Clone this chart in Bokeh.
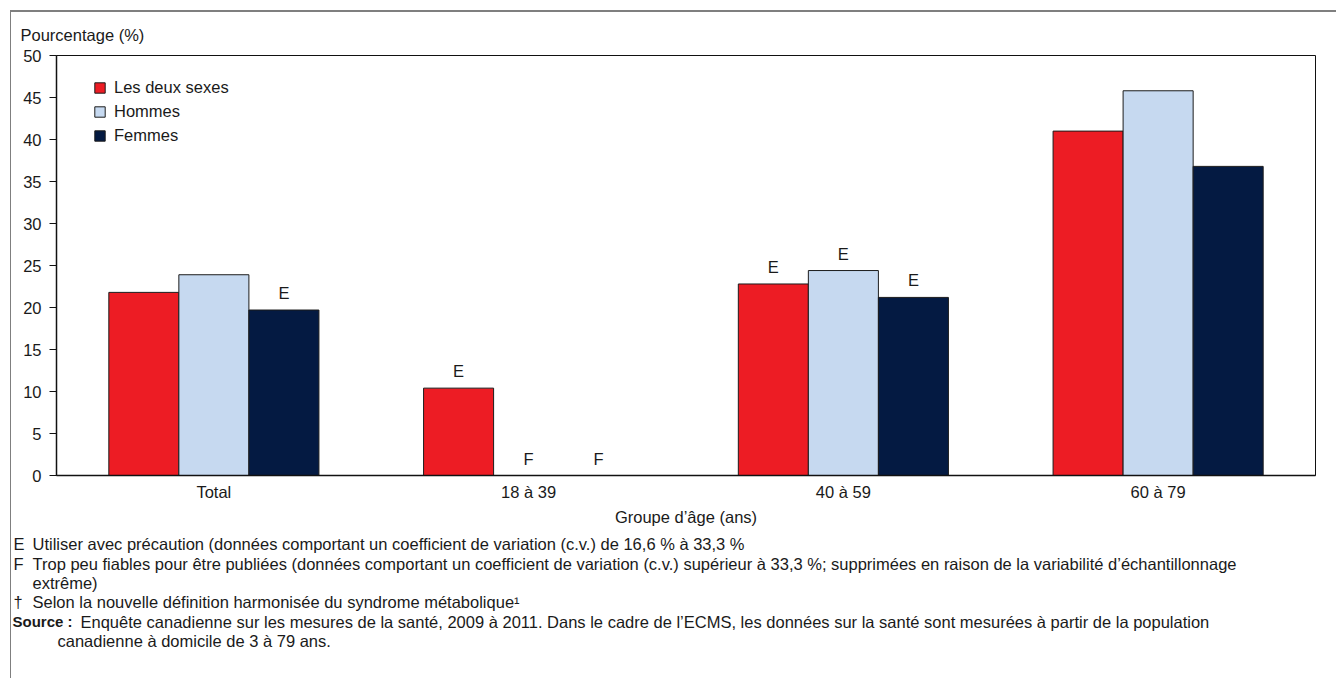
from bokeh.plotting import figure
from bokeh.layouts import column
from bokeh.models import (FactorRange, Range1d, Legend, LegendItem,
                          FixedTicker, ColumnDataSource, Column)
from bokeh.transform import dodge
from bokeh.core.properties import value
from bokeh.embed import file_html
from bokeh.resources import INLINE

# ---------------- data ----------------
categories = ["Total", "18 à 39", "40 à 59", "60 à 79"]
series_names = ["Les deux sexes", "Hommes", "Femmes"]
both = [21.8, 10.4, 22.8, 41.0]
men = [23.9, None, 24.4, 45.8]
women = [19.7, None, 21.2, 36.8]
flags_both = ["", "E", "E", ""]
flags_men = ["", "F", "E", ""]
flags_women = ["E", "F", "E", ""]
y_ticks = [0, 5, 10, 15, 20, 25, 30, 35, 40, 45, 50]
y_title = "Pourcentage (%)"
x_title = "Groupe d’âge (ans)"
note_marks = ["E", "F", "", "†"]
note_texts = [
    "Utiliser avec précaution (données comportant un coefficient de variation (c.v.) de 16,6 % à 33,3 %",
    "Trop peu fiables pour être publiées (données comportant un coefficient de variation (c.v.) supérieur à 33,3 %; supprimées en raison de la variabilité d’échantillonnage",
    "extrême)",
    "Selon la nouvelle définition harmonisée du syndrome métabolique¹",
]
source_head = "Source :"
source_lines = [
    "Enquête canadienne sur les mesures de la santé, 2009 à 2011. Dans le cadre de l’ECMS, les données sur la santé sont mesurées à partir de la population",
    "canadienne à domicile de 3 à 79 ans.",
]

# ---------------- style ----------------
FONT = "Liberation Sans"
FS = "16.5px"
TXT = "#1a1a1a"
colors = ["#ED1C24", "#C6D9F0", "#041A42"]
BW = 0.2225

def nan(v):
    return float("nan") if v is None else v

def lab_y(v):
    return 0 if v is None else v

src = ColumnDataSource(dict(
    cat=categories,
    both=[nan(v) for v in both],
    men=[nan(v) for v in men],
    women=[nan(v) for v in women],
    both_y=[lab_y(v) for v in both],
    men_y=[lab_y(v) for v in men],
    women_y=[lab_y(v) for v in women],
    both_f=flags_both,
    men_f=flags_men,
    women_f=flags_women,
))

# content origin (inside the outer frame border) is at ref (11, 12)
W = 1325
p = figure(x_range=FactorRange(factors=categories, range_padding=0),
           y_range=Range1d(0, 50),
           width=W, height=520,
           min_border_left=45, min_border_right=21,
           min_border_top=42, min_border_bottom=57,
           output_backend="svg", toolbar_location=None,
           background_fill_color="white", border_fill_color="white",
           title=y_title)

p.title.align = "left"
p.title.offset = -36
p.title.standoff = 23
p.title.text_font = FONT
p.title.text_font_size = FS
p.title.text_font_style = "normal"
p.title.text_color = TXT

renderers = []
for off, col, c in zip([-BW, 0, BW], ["both", "men", "women"], colors):
    r = p.vbar(x=dodge("cat", off, range=p.x_range), top=col, width=BW,
               source=src, fill_color=c, line_color="#1c1c1c", line_width=1)
    renderers.append(r)
    p.text(x=dodge("cat", off, range=p.x_range), y=col + "_y", text=col + "_f",
           source=src, text_align="center", text_baseline="middle",
           y_offset=-17, text_font=value(FONT), text_font_size=FS,
           text_color=TXT)

p.xgrid.visible = False
p.ygrid.visible = False
p.outline_line_color = "#111111"
p.outline_line_width = 1

p.yaxis.ticker = FixedTicker(ticks=y_ticks)
p.yaxis.minor_tick_line_color = None
p.yaxis.major_tick_in = 0
p.yaxis.major_tick_out = 7
p.yaxis.major_tick_line_color = "#111111"
p.yaxis.axis_line_color = "#111111"
p.yaxis.axis_line_width = 1.5
p.yaxis.major_label_standoff = 8
p.yaxis.major_label_text_font = FONT
p.yaxis.major_label_text_font_size = FS
p.yaxis.major_label_text_color = TXT

p.xaxis.major_tick_line_color = None
p.xaxis.major_tick_in = 0
p.xaxis.major_tick_out = 0
p.xaxis.axis_line_color = "#111111"
p.xaxis.axis_line_width = 1.5
p.xaxis.major_label_standoff = 7
p.xaxis.major_label_text_font = FONT
p.xaxis.major_label_text_font_size = FS
p.xaxis.major_label_text_color = TXT
p.xaxis.axis_label = x_title
p.xaxis.axis_label_standoff = 4
p.xaxis.axis_label_text_font = FONT
p.xaxis.axis_label_text_font_size = FS
p.xaxis.axis_label_text_font_style = "normal"
p.xaxis.axis_label_text_color = TXT

legend = Legend(items=[LegendItem(label=n, renderers=[r]) for n, r in zip(series_names, renderers)],
                location=(37, 330), orientation="vertical",
                border_line_color=None, background_fill_alpha=0,
                padding=0, margin=0, spacing=4,
                glyph_height=13, glyph_width=13, label_height=20,
                label_standoff=8, label_text_font=FONT,
                label_text_font_size=FS, label_text_color=TXT)
p.add_layout(legend)

# ---------------- footnotes panel ----------------
NH = 146
notes = figure(width=W, height=NH, x_range=Range1d(0, W), y_range=Range1d(NH, 0),
               output_backend="svg", toolbar_location=None,
               min_border=0, min_border_left=0, min_border_right=0,
               min_border_top=0, min_border_bottom=0,
               x_axis_location=None, y_axis_location=None,
               background_fill_color="white", border_fill_color="white")
notes.grid.visible = False
notes.outline_line_color = None

# notes-panel coords: x = refX - 11, y = refY - 532
def note(txt, X, Y, bold=False, size=FS):
    notes.text(x=[X - 11], y=[Y - 532], text=[txt], text_font=value(FONT),
               text_font_size=size, text_color=TXT, text_baseline="middle",
               text_align="left", text_font_style="bold" if bold else "normal")

ys = [543, 563, 582, 601]
for m, t, Y in zip(note_marks, note_texts, ys):
    if m:
        note(m, 13, Y)
    note(t, 32, Y)
note(source_head, 12, 621, bold=True, size="15px")
note(source_lines[0], 80, 621)
note(source_lines[1], 57, 640)

notes_box = Column(children=[notes])
layout = column(p, notes_box, spacing=0,
                styles={"margin-left": "10px", "margin-top": "10px",
                        "border-left": "1px solid #7f7f7f",
                        "border-top": "2px solid #7f7f7f"})

open("out.html", "w").write(file_html(layout, INLINE))
